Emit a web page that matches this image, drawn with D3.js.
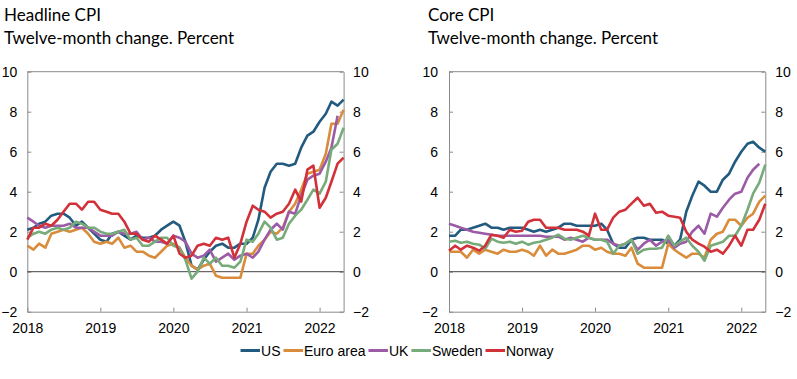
<!DOCTYPE html>
<html>
<head>
<meta charset="utf-8">
<script src="https://cdn.jsdelivr.net/npm/d3@7"></script>
<style>
  html, body { margin: 0; padding: 0; background: #fff; }
  svg { display: block; }
  .title { font-family: Lato, "Open Sans", sans-serif; font-size: 17px; fill: #000; }
  .tick text { font-family: "Liberation Sans", Arial, sans-serif; font-size: 14px; fill: #000; }
  .legend text { font-family: "Liberation Sans", Arial, sans-serif; font-size: 14px; fill: #000; }
</style>
</head>
<body>
<svg id="chart" width="797" height="379"></svg>
<script>
// ---------- DATA ----------
const seriesNames = ["US", "Euro area", "UK", "Sweden", "Norway"];
const seriesColors = ["#225b7f", "#d98c3b", "#9b5ba6", "#77ab79", "#d2313a"];
const yTicks = [-2, 0, 2, 4, 6, 8, 10];
const xTickLabels = ["2018", "2019", "2020", "2021", "2022"];
const panelTitles = ["Headline CPI", "Core CPI"];
const subTitle = "Twelve-month change. Percent";
// monthly observations, January 2018 – May 2022
const months = d3.timeMonth.range(new Date(2018, 0, 1), new Date(2022, 5, 1));

const usHeadline = [2.1,2.2,2.4,2.5,2.8,2.9,2.9,2.7,2.3,2.5,2.2,1.9, 1.6,1.5,1.9,2.0,1.8,1.6,1.8,1.7,1.7,1.8,2.1,2.3, 2.5,2.3,1.5,0.3,0.1,0.6,1.0,1.3,1.4,1.2,1.2,1.4, 1.4,1.7,2.6,4.2,5.0,5.4,5.4,5.3,5.4,6.2,6.8,7.0, 7.5,7.9,8.5,8.3,8.6];
const euroHeadline = [1.3,1.1,1.4,1.2,1.9,2.0,2.1,2.0,2.1,2.2,1.9,1.5, 1.4,1.5,1.4,1.7,1.2,1.3,1.0,1.0,0.8,0.7,1.0,1.3, 1.4,1.2,0.7,0.3,0.1,0.3,0.4,-0.2,-0.3,-0.3,-0.3,-0.3, 0.9,0.9,1.3,1.6,2.0,1.9,2.2,3.0,3.4,4.1,4.9,5.0, 5.1,5.9,7.4,7.4,8.1];
const ukHeadline = [2.7,2.5,2.3,2.2,2.3,2.3,2.3,2.4,2.2,2.2,2.2,2.0, 1.8,1.8,1.8,2.0,1.9,1.9,2.0,1.6,1.7,1.5,1.5,1.4, 1.8,1.7,1.5,0.9,0.7,0.8,1.1,0.5,0.7,0.9,0.6,0.8, 0.9,0.7,1.0,1.6,2.1,2.4,2.1,3.0,2.9,3.8,4.6,4.8, 4.9,5.5,6.2,7.8,null];
const swedenHeadline = [1.7,1.9,2.0,1.9,2.1,2.2,2.1,2.2,2.5,2.4,2.2,2.2, 2.0,1.9,1.9,2.0,2.1,1.6,1.7,1.3,1.3,1.5,1.7,1.7, 1.3,1.2,0.6,-0.35,0.0,0.7,0.4,0.7,0.3,0.3,0.2,0.5, 1.6,1.5,1.9,2.5,2.2,1.6,1.7,2.4,2.8,3.1,3.6,4.1, 3.9,4.5,6.1,6.4,7.2];
const norwayHeadline = [1.6,2.2,2.2,2.4,2.3,2.6,3.0,3.4,3.4,3.1,3.5,3.5, 3.1,3.0,2.9,2.9,2.5,1.9,1.9,1.6,1.5,1.8,1.6,1.4, 1.8,0.9,0.7,0.8,1.3,1.4,1.3,1.7,1.6,1.7,0.7,1.4, 2.5,3.3,3.1,3.0,2.7,2.9,3.0,3.4,4.1,3.5,5.1,5.3, 3.2,3.7,4.5,5.4,5.7];

const usCore = [1.8,1.8,2.1,2.1,2.2,2.3,2.4,2.2,2.2,2.1,2.2,2.2, 2.2,2.1,2.0,2.1,2.0,2.1,2.2,2.4,2.4,2.3,2.3,2.3, 2.3,2.4,2.1,1.4,1.2,1.2,1.6,1.7,1.7,1.6,1.6,1.6, 1.4,1.3,1.6,3.0,3.8,4.5,4.3,4.0,4.0,4.6,4.9,5.5, 6.0,6.4,6.5,6.2,6.0];
const euroCore = [1.0,1.0,1.0,0.7,1.1,0.9,1.1,1.0,0.9,1.1,1.0,1.0, 1.1,1.0,0.8,1.3,0.8,1.1,0.9,0.9,1.0,1.1,1.3,1.3, 1.1,1.2,1.0,0.9,0.9,0.8,1.2,0.4,0.2,0.2,0.2,0.2, 1.4,1.1,0.9,0.7,0.9,0.9,0.7,1.6,1.9,2.0,2.6,2.6, 2.3,2.7,2.9,3.5,3.8];
const ukCore = [2.4,2.3,2.2,2.1,2.0,1.95,1.9,1.85,1.8,1.8,1.8,1.8, 1.8,1.8,1.8,1.8,1.75,1.75,1.75,1.6,1.7,1.6,1.5,1.7, 1.6,1.6,1.6,1.4,1.3,1.4,1.6,1.1,1.4,1.6,1.3,1.5, 1.6,1.2,1.4,1.5,2.0,2.3,1.9,2.9,2.75,3.2,3.6,3.9, 4.0,4.7,5.1,5.4,null];
const swedenCore = [1.5,1.55,1.45,1.5,1.4,1.35,1.15,1.65,1.5,1.45,1.5,1.4, 1.5,1.35,1.45,1.5,1.6,1.7,1.85,1.65,1.6,1.7,1.8,1.7, 1.6,1.6,1.5,0.9,1.3,1.4,1.6,0.9,1.1,1.15,1.15,1.2, 1.8,1.3,1.5,1.7,1.3,1.0,0.55,1.3,1.4,1.5,1.8,1.8, 2.3,3.1,3.9,4.45,5.35];
const norwayCore = [1.05,1.3,1.1,1.3,1.2,1.05,1.3,1.85,1.8,1.7,2.1,2.0, 2.05,2.5,2.6,2.6,2.2,2.2,2.2,2.1,2.1,2.1,2.0,1.8, 2.9,2.1,2.1,2.7,3.0,3.1,3.4,3.7,3.3,3.4,2.95,3.0, 2.8,2.75,2.7,2.0,1.6,1.4,1.25,1.0,1.1,0.9,1.3,1.8, 1.3,2.1,2.1,2.6,3.4];

const headlineSeries = [usHeadline, euroHeadline, ukHeadline, swedenHeadline, norwayHeadline];
const coreSeries = [usCore, euroCore, ukCore, swedenCore, norwayCore];

// ---------- DRAW ----------
const svg = d3.select("#chart");
const yTop = 71.7, yBottom = 311.7;
const panels = [
  { title: panelTitles[0], titleX: 4, x0: 27.3, x1: 343.6, padL: 10, padR: 9.5, series: headlineSeries },
  { title: panelTitles[1], titleX: 428, x0: 449, x1: 765.3, padL: 11, padR: 10, series: coreSeries }
];
const frameColor = "#8a8a8a";

panels.forEach(p => {
  const g = svg.append("g");
  const x = d3.scaleTime().domain([months[0], months[months.length - 1]]).range([p.x0, p.x1]);
  const y = d3.scaleLinear().domain([-2, 10]).range([yBottom, yTop]);

  // titles
  g.append("text").attr("class", "title").attr("x", p.titleX).attr("y", 20.5).text(p.title);
  g.append("text").attr("class", "title").attr("x", p.titleX).attr("y", 44).text(subTitle);

  // top frame line
  g.append("line").attr("x1", p.x0).attr("x2", p.x1).attr("y1", y(10)).attr("y2", y(10))
    .attr("stroke", frameColor).attr("stroke-width", 1);

  const styleAxis = sel => {
    sel.select(".domain").attr("stroke", frameColor).attr("stroke-width", 1);
    sel.selectAll(".tick line").attr("stroke", frameColor);
  };

  // left axis
  g.append("g").attr("transform", `translate(${p.x0},0)`)
    .call(d3.axisLeft(y).tickValues(yTicks).tickSize(-4).tickSizeOuter(0).tickPadding(p.padL)
      .tickFormat(d => d < 0 ? "−" + Math.abs(d) : d))
    .call(styleAxis);
  // right axis
  g.append("g").attr("transform", `translate(${p.x1},0)`)
    .call(d3.axisRight(y).tickValues(yTicks).tickSize(-4).tickSizeOuter(0).tickPadding(p.padR)
      .tickFormat(d => d < 0 ? "−" + Math.abs(d) : d))
    .call(styleAxis);
  // bottom axis
  const yearTicks = xTickLabels.map(s => new Date(+s, 0, 1));
  g.append("g").attr("transform", `translate(0,${yBottom})`)
    .call(d3.axisBottom(x).tickValues(yearTicks).tickSize(-4).tickSizeOuter(0).tickPadding(11.5)
      .tickFormat((d, i) => xTickLabels[i]))
    .call(styleAxis);
  svg.selectAll(".domain").attr("fill", "none");

  // zero line
  g.append("line").attr("x1", p.x0).attr("x2", p.x1).attr("y1", y(0)).attr("y2", y(0))
    .attr("stroke", "#444").attr("stroke-width", 1);

  // lines
  const line = d3.line()
    .defined(d => d.v != null)
    .x(d => x(d.t)).y(d => y(d.v));
  p.series.forEach((vals, i) => {
    const data = months.map((t, k) => ({ t, v: vals[k] }));
    g.append("path").datum(data)
      .attr("fill", "none")
      .attr("stroke", seriesColors[i])
      .attr("stroke-width", 2.6)
      .attr("stroke-linejoin", "round")
      .attr("d", line);
  });
});

// legend
const lg = svg.append("g").attr("class", "legend");
const swW = 19.5, legendY = 350.5;
let cx = 0;
const items = [];
seriesNames.forEach((name, i) => {
  const it = lg.append("g");
  it.append("line").attr("x1", 0).attr("x2", swW).attr("y1", legendY).attr("y2", legendY)
    .attr("stroke", seriesColors[i]).attr("stroke-width", 3);
  const t = it.append("text").attr("x", swW + 1).attr("y", 355.5).text(name);
  const w = t.node().getComputedTextLength();
  it.attr("transform", `translate(${cx},0)`);
  cx += swW + 1 + w + 3;
});
const total = cx - 3;
lg.attr("transform", `translate(${397 - total / 2},0)`);
</script>
</body>
</html>
